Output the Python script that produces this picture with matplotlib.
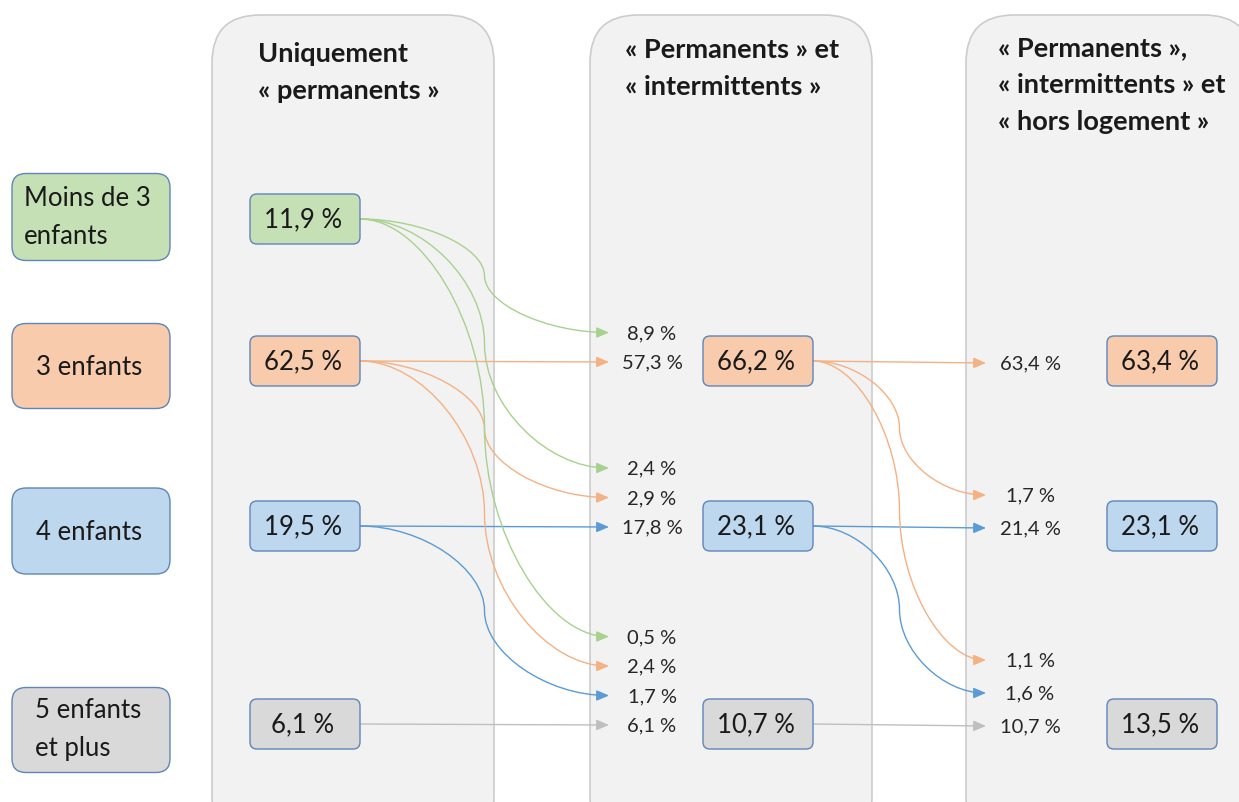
import matplotlib
matplotlib.use("Agg")
import matplotlib.pyplot as plt
from matplotlib.patches import FancyBboxPatch, FancyArrowPatch
from matplotlib.path import Path

plt.rcParams['font.family'] = ['Lato', 'DejaVu Sans']

# ---------------- data ----------------
categories = ["Moins de 3\nenfants", "3 enfants", "4 enfants", "5 enfants\net plus"]
stage_titles = ["Uniquement\n« permanents »",
                "« Permanents » et\n« intermittents »",
                "« Permanents »,\n« intermittents » et\n« hors logement »"]
col1_values = [11.9, 62.5, 19.5, 6.1]
col2_values = [None, 66.2, 23.1, 10.7]
col3_values = [None, 63.4, 23.1, 13.5]

flow1_src = [0, 1, 0, 1, 2, 0, 1, 2, 3]
flow1_dst = [1, 1, 2, 2, 2, 3, 3, 3, 3]
flow1_val = [8.9, 57.3, 2.4, 2.9, 17.8, 0.5, 2.4, 1.7, 6.1]

flow2_src = [1, 1, 2, 1, 2, 3]
flow2_dst = [1, 2, 2, 3, 3, 3]
flow2_val = [63.4, 1.7, 21.4, 1.1, 1.6, 10.7]

# ---------------- styles / layout ----------------
fill_colors = ['#c5e0b4', '#f8cbad', '#bdd7ee', '#d9d9d9']
line_colors = ['#a9d18e', '#f4b183', '#5b9bd5', '#bfbfbf']
box_edge = '#5f86b8'
text_col = '#1a1a1a'

W, H = 1239, 803
fig = plt.figure(figsize=(W / 100, H / 100), dpi=100)
ax = fig.add_axes([0, 0, 1, 1])
ax.set_xlim(0, W)
ax.set_ylim(H, 0)
ax.axis('off')


def fmt(v):
    return f"{v:.1f}".replace('.', ',') + " %"


# panels
panel_x = [(212, 494), (590, 872), (966, 1252)]
for (x0, x1) in panel_x:
    ax.add_patch(FancyBboxPatch((x0, 16), x1 - x0, 830, boxstyle="round,pad=0,rounding_size=48",
                                facecolor='#f2f2f2', edgecolor='#cccccc', lw=1.2, zorder=1))

# titles
title_x = [258, 625, 998]
title_y0 = [54, 50, 48]
for t, x, y0 in zip(stage_titles, title_x, title_y0):
    for i, line in enumerate(t.split('\n')):
        ax.text(x, y0 + i * 37, line, fontsize=19.5, fontweight='bold', color=text_col,
                ha='left', va='center', zorder=5)

# category boxes
cat_cy = [218, 367, 532, 731]
cat_h = [87, 85, 86, 85]
for i, (lab, cy, h) in enumerate(zip(categories, cat_cy, cat_h)):
    ax.add_patch(FancyBboxPatch((12, cy - h / 2), 158, h, boxstyle="round,pad=0,rounding_size=14",
                                facecolor=fill_colors[i], edgecolor=box_edge, lw=1.0, zorder=3))
    lines = lab.split('\n')
    if len(lines) == 2:
        xl = 24 if i == 0 else 35
        for k, line in enumerate(lines):
            ax.text(xl, cy - 20 + k * 38, line, fontsize=18.5, color=text_col,
                    ha='left', va='center', zorder=5)
    else:
        ax.text(36, cy + 1, lab, fontsize=18.5, color=text_col, ha='left', va='center', zorder=5)

# value boxes
row_y = [220, 362, 527, 725]
box_w, box_h = 110, 50
col_x = [250, 703, 1107]
for cx, vals in zip(col_x, [col1_values, col2_values, col3_values]):
    for i, v in enumerate(vals):
        if v is None:
            continue
        ax.add_patch(FancyBboxPatch((cx, row_y[i] - box_h / 2), box_w, box_h,
                                    boxstyle="round,pad=0,rounding_size=7",
                                    facecolor=fill_colors[i], edgecolor=box_edge, lw=1.0, zorder=3))
        ax.text(cx + box_w / 2 - 2, row_y[i], fmt(v), fontsize=18.5, color=text_col,
                ha='center', va='center', zorder=5)


def connector(x0, y0, x1, y1, color):
    if abs(y1 - y0) < 4:
        path = Path([(x0, y0), (x1, y1)], [Path.MOVETO, Path.LINETO])
    else:
        w = x1 - x0
        h = y1 - y0
        xm = x0 + 0.5 * w
        verts = [(x0, y0),
                 (x0 + 0.25 * w, y0), (xm, y0 + h / 4), (xm, y0 + h / 2),
                 (xm, y0 + 3 * h / 4), (x0 + 0.75 * w, y1), (x1, y1)]
        codes = [Path.MOVETO] + [Path.CURVE4] * 6
        path = Path(verts, codes)
    ar = FancyArrowPatch(path=path, arrowstyle='-|>,head_length=0.75,head_width=0.32',
                         mutation_scale=10, color=color, lw=1.0, zorder=2)
    ax.add_patch(ar)


def draw_stage(src, dst, val, x_start, x_end, label_cx, spacing, offset):
    for d in sorted(set(dst)):
        idx = [k for k in range(len(dst)) if dst[k] == d]
        n = len(idx)
        for j, k in enumerate(idx):
            ly = row_y[d] + offset + (j - (n - 1)) * spacing
            connector(x_start, row_y[src[k]], x_end, ly, line_colors[src[k]])
            ax.text(label_cx, ly, fmt(val[k]), fontsize=14.5, color='#262626',
                    ha='center', va='center', zorder=5)


draw_stage(flow1_src, flow1_dst, flow1_val, col_x[0] + box_w, 609, 652, 29.5, 1)
draw_stage(flow2_src, flow2_dst, flow2_val, col_x[1] + box_w, 986, 1030, 33, 2)

fig.savefig('out.png', dpi=100, facecolor='white')
